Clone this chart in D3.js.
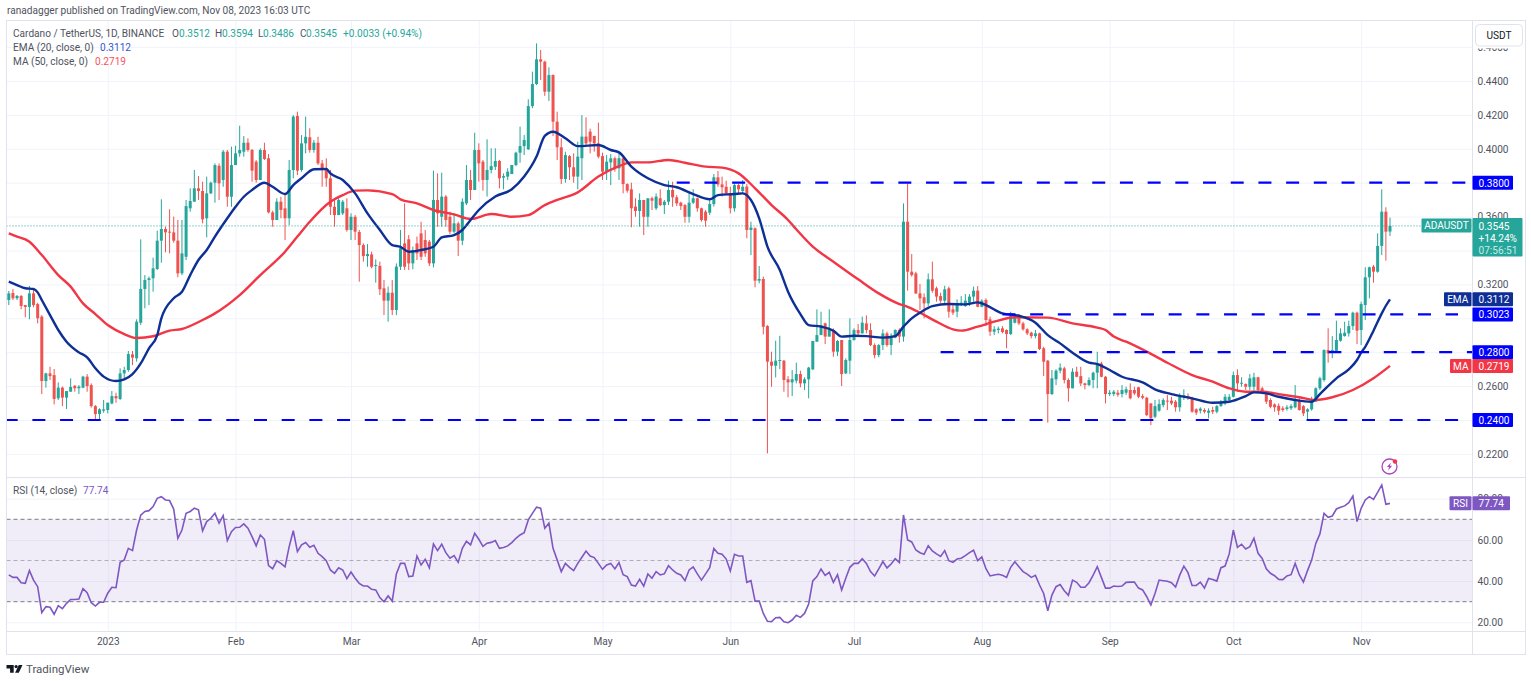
<!DOCTYPE html>
<html>
<head>
  <meta charset="utf-8">
  <script src="https://d3js.org/d3.v7.min.js"></script>
  <style>
    html, body { margin: 0; padding: 0; background: #fff; }
    svg { display: block; }
    text { font-family: Roboto, "Open Sans", sans-serif; font-size: 10.1px; fill: #50535e; }
    .grid line { stroke: #f0f3fa; stroke-width: 1; }
    .grid path, .grid text { display: none; }
    .axis path, .axis line { display: none; }
    .frame { stroke: #e0e3eb; stroke-width: 1; fill: none; }
  </style>
</head>
<body>
<script type="text/javascript">
// daily candles, 8 Dec 2022 to 8 Nov 2023
var opens = [
.3108,.3149,.3118,.3132,.3078,.3067,.3147,.3084,.3010,.2630,
.2675,.2665,.2528,.2591,.2532,.2567,.2602,.2587,.2591,.2656,
.2606,.2482,.2435,.2455,.2459,.2498,.2541,.2524,.2675,.2695,
.2787,.2764,.2974,.3173,.3226,.3236,.3291,.3458,.3527,.3511,
.3507,.3458,.3265,.3363,.3649,.3688,.3767,.3751,.3590,.3737,
.3800,.3900,.3816,.3983,.3717,.3904,.3973,.3983,.4036,.3993,
.3924,.3816,.3993,.3944,.3625,.3580,.3688,.3649,.3590,.3875,
.4194,.3875,.4032,.4068,.3993,.4036,.3914,.3885,.3826,.3658,
.3609,.3619,.3649,.3521,.3599,.3509,.3432,.3367,.3377,.3311,
.3309,.3177,.3104,.3151,.3049,.3304,.3442,.3466,.3324,.3442,
.3501,.3462,.3452,.3324,.3698,.3599,.3718,.3599,.3511,.3560,
.3458,.3678,.3816,.3757,.3993,.3924,.3816,.3875,.3894,.3928,
.3830,.3836,.3851,.3904,.3977,.4016,.3997,.4252,.4382,.4528,
.4514,.4337,.4435,.4160,.4009,.3822,.3957,.3891,.3836,.3944,
.4072,.4101,.4076,.4032,.3957,.3865,.3920,.3944,.3885,.3944,
.3792,.3761,.3659,.3633,.3698,.3599,.3708,.3649,.3708,.3668,
.3688,.3757,.3714,.3682,.3668,.3599,.3682,.3708,.3649,.3629,
.3623,.3674,.3832,.3790,.3776,.3737,.3649,.3786,.3751,.3777,
.3521,.3531,.3222,.3232,.2954,.2744,.2720,.2750,.2750,.2640,
.2622,.2632,.2671,.2616,.2640,.2699,.2862,.2901,.2970,.2892,
.2931,.2803,.2872,.2675,.2750,.2872,.2931,.2911,.2970,.2931,
.2842,.2783,.2842,.2911,.2842,.2886,.2931,.2892,.3570,.3275,
.3265,.3147,.3124,.3088,.3230,.3177,.3131,.3104,.3177,.3053,
.3039,.3084,.3072,.3092,.3128,.3163,.3068,.3108,.2994,.2921,
.2931,.2941,.2931,.2907,.2974,.3019,.2970,.2935,.2915,.2895,
.2911,.2823,.2750,.2553,.2640,.2691,.2705,.2636,.2587,.2685,
.2659,.2616,.2606,.2636,.2679,.2734,.2655,.2553,.2553,.2561,
.2553,.2561,.2577,.2577,.2593,.2541,.2531,.2498,.2419,.2455,
.2488,.2514,.2514,.2508,.2475,.2537,.2541,.2528,.2463,.2455,
.2459,.2443,.2459,.2449,.2482,.2498,.2518,.2537,.2665,.2616,
.2612,.2596,.2596,.2652,.2587,.2561,.2518,.2492,.2484,.2469,
.2465,.2469,.2475,.2518,.2482,.2449,.2463,.2508,.2587,.2636,
.2813,.2797,.2803,.2868,.2895,.2911,.2954,.3033,.2931,.3078,
.3242,.3305,.3275,.3427,.3629,.3512];
var highs = [
.3161,.3173,.3137,.3137,.3078,.3191,.3167,.3092,.3019,.2679,
.2714,.2701,.2622,.2597,.2571,.2646,.2606,.2606,.2661,.2671,
.2616,.2488,.2469,.2518,.2502,.2571,.2561,.2705,.2714,.2807,
.2807,.2994,.3466,.3255,.3246,.3358,.3517,.3702,.3541,.3643,
.3600,.3580,.3580,.3698,.3767,.3875,.3839,.3806,.3836,.3806,
.3914,.3914,.3993,.3993,.4013,.4018,.4136,.4075,.4062,.3999,
.3934,.4003,.4036,.3969,.3635,.3708,.3717,.3727,.3934,.4199,
.4219,.4081,.4190,.4121,.4052,.4071,.3934,.3944,.3875,.3698,
.3708,.3698,.3708,.3619,.3609,.3521,.3442,.3438,.3393,.3348,
.3334,.3226,.3187,.3226,.3324,.3521,.3678,.3491,.3423,.3482,
.3570,.3521,.3462,.3871,.3855,.3859,.3727,.3629,.3619,.3570,
.3708,.3904,.3875,.4095,.4032,.3934,.4056,.4003,.4003,.3934,
.3855,.3885,.3904,.3983,.4131,.4081,.4292,.4455,.4622,.4583,
.4520,.4481,.4439,.4219,.4062,.3983,.3963,.3973,.4042,.4199,
.4186,.4119,.4076,.4154,.3977,.3963,.3969,.3954,.3983,.3948,
.3796,.3800,.3708,.3737,.3698,.3708,.3718,.3737,.3761,.3698,
.3812,.3806,.3727,.3688,.3674,.3741,.3761,.3712,.3653,.3639,
.3708,.3851,.3869,.3836,.3812,.3776,.3796,.3792,.3816,.3792,
.3570,.3537,.3309,.3246,.2960,.2803,.2868,.2897,.2754,.2659,
.2695,.2738,.2691,.2652,.2714,.2866,.3053,.3039,.2974,.3053,
.2941,.2872,.2872,.2764,.3000,.2941,.2966,.3010,.3017,.2970,
.2852,.2848,.2935,.2921,.2911,.2935,.2941,.3678,.3796,.3379,
.3275,.3202,.3147,.3265,.3334,.3187,.3151,.3192,.3187,.3078,
.3112,.3131,.3143,.3143,.3187,.3190,.3112,.3118,.3010,.2954,
.2951,.2954,.2935,.3039,.3029,.3025,.2980,.2941,.2921,.2931,
.2915,.2832,.2754,.2695,.2699,.2734,.2714,.2646,.2705,.2714,
.2714,.2620,.2652,.2685,.2803,.2744,.2659,.2577,.2577,.2577,
.2606,.2596,.2616,.2596,.2596,.2553,.2537,.2498,.2518,.2522,
.2528,.2547,.2537,.2518,.2557,.2581,.2557,.2537,.2469,.2475,
.2469,.2469,.2478,.2488,.2518,.2553,.2553,.2685,.2699,.2652,
.2616,.2671,.2679,.2655,.2596,.2567,.2528,.2498,.2498,.2482,
.2488,.2494,.2606,.2528,.2488,.2469,.2537,.2593,.2655,.2817,
.2941,.2895,.2986,.2941,.2980,.2986,.3039,.3039,.3098,.3301,
.3305,.3314,.3501,.3761,.3655,.3594];
var lows = [
.3078,.3108,.3108,.3053,.3006,.2994,.3065,.2970,.2553,.2591,
.2636,.2492,.2518,.2482,.2465,.2567,.2567,.2553,.2587,.2567,
.2473,.2404,.2400,.2443,.2439,.2492,.2502,.2518,.2646,.2685,
.2724,.2744,.2960,.3059,.3078,.3157,.3285,.3328,.3389,.3383,
.3446,.3242,.3255,.3344,.3629,.3688,.3698,.3560,.3477,.3733,
.3682,.3698,.3776,.3658,.3658,.3904,.3953,.3953,.3983,.3806,
.3800,.3816,.3934,.3619,.3540,.3580,.3590,.3462,.3550,.3826,
.3845,.3865,.3973,.3977,.3977,.3904,.3776,.3776,.3609,.3540,
.3609,.3609,.3511,.3462,.3462,.3216,.3334,.3304,.3295,.3210,
.3137,.3019,.2980,.3019,.3019,.3285,.3285,.3285,.3289,.3344,
.3344,.3363,.3308,.3300,.3540,.3540,.3540,.3497,.3501,.3367,
.3432,.3668,.3698,.3757,.3806,.3753,.3718,.3855,.3875,.3767,
.3761,.3816,.3851,.3898,.3918,.3963,.3993,.4239,.4376,.4406,
.4312,.4282,.4076,.3934,.3792,.3800,.3816,.3800,.3761,.3816,
.4017,.3973,.3983,.3944,.3816,.3816,.3786,.3865,.3816,.3737,
.3741,.3537,.3599,.3540,.3491,.3540,.3639,.3639,.3662,.3615,
.3668,.3658,.3662,.3639,.3564,.3564,.3674,.3629,.3570,.3540,
.3609,.3659,.3776,.3718,.3727,.3619,.3629,.3737,.3737,.3472,
.3373,.3183,.3206,.2905,.2203,.2596,.2651,.2701,.2567,.2534,
.2541,.2616,.2593,.2577,.2528,.2695,.2862,.2901,.2848,.2892,
.2773,.2777,.2600,.2671,.2671,.2868,.2901,.2911,.2911,.2836,
.2764,.2770,.2813,.2832,.2783,.2882,.2856,.2862,.3163,.3246,
.3143,.3049,.3000,.3072,.3151,.3098,.3092,.3088,.3004,.3019,
.3006,.3072,.3068,.3072,.3098,.3065,.3065,.2954,.2897,.2901,
.2911,.2911,.2823,.2901,.2970,.2960,.2927,.2901,.2882,.2882,
.2813,.2659,.2384,.2547,.2606,.2675,.2616,.2508,.2587,.2652,
.2600,.2581,.2600,.2587,.2587,.2652,.2498,.2541,.2541,.2537,
.2533,.2547,.2522,.2547,.2528,.2522,.2423,.2370,.2410,.2449,
.2475,.2459,.2488,.2449,.2449,.2518,.2518,.2443,.2429,.2439,
.2439,.2410,.2435,.2439,.2478,.2488,.2508,.2533,.2567,.2596,
.2577,.2577,.2573,.2567,.2553,.2494,.2469,.2449,.2429,.2449,
.2455,.2459,.2469,.2455,.2423,.2396,.2455,.2508,.2577,.2626,
.2738,.2764,.2797,.2862,.2892,.2892,.2931,.2848,.2842,.2990,
.3118,.3210,.3269,.3373,.3340,.3486];
var closes = [
.3147,.3118,.3132,.3073,.3067,.3147,.3078,.3000,.2630,.2675,
.2659,.2524,.2591,.2532,.2571,.2595,.2587,.2597,.2656,.2600,
.2482,.2435,.2463,.2463,.2502,.2541,.2528,.2675,.2695,.2789,
.2768,.2980,.3173,.3226,.3236,.3295,.3458,.3527,.3507,.3507,
.3458,.3265,.3383,.3662,.3692,.3767,.3751,.3584,.3737,.3800,
.3904,.3796,.3983,.3717,.3904,.3973,.3993,.4036,.3993,.3871,
.3816,.3993,.3940,.3625,.3580,.3688,.3639,.3590,.3875,.4190,
.3871,.4032,.4071,.3993,.4036,.3914,.3885,.3826,.3658,.3609,
.3698,.3688,.3521,.3599,.3511,.3432,.3367,.3379,.3304,.3314,
.3171,.3104,.3151,.3049,.3305,.3413,.3304,.3324,.3403,.3383,
.3363,.3383,.3324,.3698,.3619,.3718,.3580,.3511,.3560,.3458,
.3688,.3816,.3757,.3993,.3914,.3816,.3875,.3898,.3928,.3826,
.3839,.3865,.3904,.3977,.4016,.4052,.4252,.4382,.4528,.4514,
.4337,.4435,.4160,.4009,.3822,.3963,.3891,.3836,.3954,.4072,
.4032,.4042,.4032,.3954,.3865,.3924,.3944,.3885,.3944,.3792,
.3753,.3649,.3633,.3698,.3599,.3708,.3694,.3718,.3668,.3688,
.3757,.3714,.3678,.3662,.3599,.3682,.3708,.3649,.3580,.3576,
.3674,.3832,.3790,.3773,.3737,.3649,.3786,.3761,.3776,.3521,
.3535,.3222,.3232,.2950,.2744,.2720,.2750,.2754,.2636,.2622,
.2640,.2671,.2616,.2640,.2709,.2866,.2901,.2960,.2892,.2931,
.2803,.2866,.2671,.2754,.2872,.2931,.2911,.2974,.2931,.2842,
.2783,.2842,.2911,.2842,.2892,.2931,.2892,.3570,.3275,.3255,
.3147,.3118,.3088,.3230,.3163,.3128,.3104,.3171,.3039,.3033,
.3084,.3092,.3104,.3128,.3163,.3068,.3104,.2990,.2921,.2935,
.2939,.2919,.2907,.3029,.3019,.2970,.2935,.2911,.2895,.2911,
.2819,.2744,.2553,.2646,.2691,.2709,.2636,.2587,.2685,.2655,
.2616,.2606,.2636,.2679,.2734,.2655,.2553,.2561,.2567,.2549,
.2577,.2581,.2528,.2557,.2537,.2531,.2429,.2410,.2482,.2494,
.2518,.2508,.2498,.2475,.2537,.2547,.2537,.2449,.2443,.2467,
.2449,.2455,.2449,.2482,.2508,.2537,.2537,.2665,.2616,.2620,
.2596,.2646,.2652,.2577,.2561,.2508,.2478,.2475,.2455,.2459,
.2475,.2482,.2522,.2459,.2439,.2463,.2508,.2587,.2646,.2813,
.2793,.2813,.2872,.2911,.2915,.2954,.3033,.2927,.3084,.3242,
.3301,.3275,.3427,.3629,.3511,.3545];

// EMA 20 and MA 50, sampled where the curves could be read
var emaDays = [0,2,4,6,7,8,10,12,14,17,19,21,23,26,28,30,32,34,36,37,40,42,44,46,48,50,53,55,57,59,62,64,67,69,71,74,77,78,81,84,87,90,93,95,97,100,103,105,108,110,112,114,118,122,125,128,130,132,135,138,143,146,148,151,155,159,162,166,170,172,176,178,180,182,184,187,189,192,194,197,200,202,205,208,212,215,217,219,221,224,228,232,235,237,241,245,249,252,255,258,262,264,267,270,275,278,282,287,292,296,300,302,305,308,312,316,318,322,325,327,328,329,331,333,334,335];
var emaValues = [.3216,.3196,.3177,.3173,.3153,.3108,.3019,.2931,.2862,.2799,.2770,.2705,.2656,.2630,.2640,.2671,.2734,.2823,.2901,.3000,.3118,.3157,.3255,.3344,.3403,.3482,.3590,.3658,.3717,.3757,.3800,.3776,.3733,.3786,.3826,.3879,.3881,.3855,.3816,.3737,.3619,.3521,.3432,.3422,.3393,.3403,.3422,.3477,.3491,.3521,.3580,.3639,.3718,.3761,.3836,.3954,.4076,.4101,.4062,.4016,.4022,.3993,.3979,.3895,.3826,.3786,.3773,.3733,.3702,.3727,.3733,.3737,.3698,.3590,.3423,.3285,.3157,.3025,.2960,.2951,.2927,.2892,.2897,.2895,.2886,.2895,.2951,.3000,.3033,.3072,.3084,.3082,.3094,.3078,.3029,.3015,.2974,.2901,.2852,.2797,.2738,.2730,.2695,.2655,.2622,.2581,.2553,.2528,.2502,.2508,.2541,.2563,.2557,.2537,.2518,.2508,.2553,.2646,.2699,.2754,.2797,.2832,.2927,.3029,.3074,.3112];
var maDays = [0,2,5,8,12,15,18,21,24,28,31,35,39,42,47,50,56,61,67,70,73,78,81,84,87,93,95,99,103,108,112,117,122,126,130,133,138,143,148,151,155,160,164,169,173,177,181,185,189,191,195,200,206,211,216,218,221,225,229,231,235,239,244,252,258,264,266,268,271,276,281,287,292,296,300,304,308,313,317,321,326,331,335];
var maValues = [.3501,.3482,.3452,.3373,.3255,.3187,.3088,.3025,.2960,.2907,.2884,.2894,.2927,.2937,.2990,.3029,.3137,.3255,.3393,.3482,.3570,.3688,.3727,.3753,.3755,.3733,.3702,.3678,.3639,.3613,.3586,.3615,.3599,.3609,.3668,.3698,.3743,.3836,.3898,.3920,.3920,.3934,.3918,.3895,.3889,.3855,.3767,.3668,.3580,.3525,.3423,.3334,.3230,.3147,.3084,.3068,.3033,.2980,.2935,.2927,.2951,.2980,.3006,.3004,.2970,.2945,.2931,.2892,.2862,.2803,.2738,.2665,.2626,.2587,.2567,.2567,.2553,.2534,.2518,.2534,.2577,.2646,.2719];

// RSI 14, one value per candle
var rsiValues = [
43.0,41.8,41.8,39.2,38.9,45.1,40.5,37.3,24.7,27.6,
27.3,23.9,28.1,26.6,29.2,31.1,31.1,31.3,36.3,34.4,
29.5,27.9,29.7,29.7,34.1,37.0,36.8,49.1,50.3,55.9,
54.8,64.8,72.0,73.8,74.2,76.2,80.2,81.0,79.4,79.1,
74.9,60.8,64.8,72.9,73.8,75.4,74.6,64.4,68.9,70.5,
72.9,68.1,71.8,59.7,64.0,66.0,66.1,67.8,65.7,61.6,
57.1,62.4,60.3,47.5,46.0,49.9,48.6,46.9,56.7,64.5,
54.3,57.6,58.7,56.4,57.4,53.5,51.9,49.9,45.4,43.8,
46.5,45.4,41.2,44.4,41.4,38.9,37.6,37.6,36.0,35.7,
32.0,30.0,32.8,30.3,43.5,48.6,48.6,42.2,42.5,52.2,
47.8,50.6,46.4,58.0,54.8,57.9,53.8,51.1,52.4,49.1,
55.9,59.3,57.6,63.2,60.3,56.9,58.4,58.8,59.7,55.9,
56.3,57.1,58.7,60.8,62.4,63.5,69.7,72.9,75.9,75.4,
65.7,68.1,55.9,50.3,44.6,48.6,46.7,45.1,48.6,51.6,
54.6,52.2,51.4,48.6,45.7,47.8,48.6,45.9,49.0,43.1,
42.2,38.1,37.6,40.9,37.6,43.5,41.4,44.6,43.0,43.5,
47.5,45.4,43.8,43.0,40.2,45.4,46.9,43.5,40.5,43.5,
46.5,55.8,53.5,53.0,50.7,44.9,53.0,52.2,52.2,39.4,
40.2,30.3,30.3,24.3,20.5,20.3,22.2,22.4,20.3,19.8,
21.1,23.4,22.4,24.3,28.9,40.1,42.2,45.9,42.8,44.3,
39.4,43.1,35.7,41.4,46.7,48.6,48.6,50.9,48.6,44.6,
42.5,45.9,49.5,46.4,48.3,50.9,49.0,72.1,60.0,59.0,
55.1,53.8,53.0,57.2,54.6,53.2,52.0,54.8,49.9,49.1,
50.7,51.1,52.4,53.8,55.0,49.9,51.7,46.0,42.5,43.0,
43.3,42.8,41.8,46.7,49.4,47.0,44.6,43.4,41.8,42.8,
38.1,34.0,25.6,33.2,37.3,38.3,35.3,33.1,40.5,39.4,
37.0,37.0,39.2,42.9,47.0,41.8,36.6,36.6,37.6,37.4,
37.6,39.4,39.5,39.5,36.6,35.7,32.4,28.4,34.0,40.5,
40.2,39.9,39.2,37.1,42.9,47.3,44.1,37.9,37.9,39.5,
36.6,41.3,40.8,40.0,46.5,47.3,53.2,64.8,56.4,57.9,
55.6,56.7,60.8,53.5,51.0,46.0,43.8,42.6,40.8,40.7,
42.5,43.1,48.6,43.1,39.5,45.1,50.2,58.3,62.9,72.9,
71.0,71.6,75.0,75.8,76.5,78.1,81.3,68.9,75.3,79.4,
81.0,79.7,83.1,86.7,77.3,77.74];

// horizontal levels drawn on the chart: price, first day, last day
var levelPrices = [0.38, 0.3023, 0.28, 0.24];
var levelFrom = [162, 241, 226, -1];
var levelTo = [353.5, 351.5, 355, 352.5];

var priceTicks = [0.22,0.24,0.26,0.28,0.30,0.32,0.34,0.36,0.38,0.40,0.42,0.44,0.46];
var priceLabels = [0.22,0.26,0.32,0.36,0.40,0.42,0.44,0.46];
var rsiTicks = [20,40,60,80];
var rsiDashes = [70,50,30];
var monthDays = [24,55,83,114,144,175,205,236,267,297,328];
var monthLabels = ["2023","Feb","Mar","Apr","May","Jun","Jul","Aug","Sep","Oct","Nov"];

var lastPrice = 0.3545, emaLast = 0.3112, maLast = 0.2719, rsiLast = 77.74;

var GREEN = "#26a69a", RED = "#ef5350", BLUE = "#0000ff", NAVY = "#0d2f96",
    MACOL = "#f23645", PURPLE = "#7e57c2";

// careful: a global called "top" is window.top and can't be assigned
var W = 1531, H = 681,
    paneLeft = 6.5, paneRight = 1472.5, outer = 1525.5,
    paneTop = 20.5, split = 477.5, rsiBottom = 631.5, bottom = 654.5;

var x = d3.scaleLinear().domain([0, 335]).range([8.8, 1390]);
var y = d3.scaleLinear().domain([0.24, 0.44]).range([420, 81]);
var yRsi = d3.scaleLinear().domain([30, 70]).range([601.7, 519.3]);

var svg = d3.select("body").append("svg").attr("width", W).attr("height", H);

// clip so nothing runs past the panes
svg.append("clipPath").attr("id", "pane").append("rect")
  .attr("x", paneLeft).attr("y", paneTop).attr("width", paneRight - paneLeft).attr("height", split - paneTop);
svg.append("clipPath").attr("id", "pane2").append("rect")
  .attr("x", paneLeft).attr("y", split).attr("width", paneRight - paneLeft).attr("height", rsiBottom - split);

// grid lines
svg.append("g").attr("class", "grid").attr("transform", "translate(0," + split + ")")
  .call(d3.axisBottom(x).tickValues(monthDays).tickSize(paneTop - split).tickFormat(""));
svg.append("g").attr("class", "grid").attr("transform", "translate(0," + rsiBottom + ")")
  .call(d3.axisBottom(x).tickValues(monthDays).tickSize(split - rsiBottom).tickFormat(""));
svg.append("g").attr("class", "grid").attr("transform", "translate(" + paneRight + ",0)")
  .call(d3.axisLeft(y).tickValues(priceTicks).tickSize(paneRight - paneLeft).tickFormat(""));
svg.append("g").attr("class", "grid").attr("transform", "translate(" + paneRight + ",0)")
  .call(d3.axisLeft(yRsi).tickValues(rsiTicks).tickSize(paneRight - paneLeft).tickFormat(""));

// candles
var plot = svg.append("g").attr("clip-path", "url(#pane)");
var days = d3.range(opens.length);
var candleColor = function(i) { return closes[i] >= opens[i] ? GREEN : RED; };

plot.selectAll("line.wick").data(days).enter().append("line")
  .attr("class", "wick")
  .attr("x1", function(i) { return x(i); })
  .attr("x2", function(i) { return x(i); })
  .attr("y1", function(i) { return y(highs[i]); })
  .attr("y2", function(i) { return y(lows[i]); })
  .attr("stroke", candleColor)
  .attr("stroke-width", 1);

plot.selectAll("rect.body").data(days).enter().append("rect")
  .attr("class", "body")
  .attr("x", function(i) { return x(i) - 1.5; })
  .attr("width", 3)
  .attr("y", function(i) { return y(Math.max(opens[i], closes[i])); })
  .attr("height", function(i) { return Math.max(1, Math.abs(y(opens[i]) - y(closes[i]))); })
  .attr("fill", candleColor);

// EMA and MA
var line = d3.line().x(function(d) { return x(d[0]); }).y(function(d) { return y(d[1]); })
  .curve(d3.curveMonotoneX);
plot.append("path").attr("d", line(d3.zip(maDays, maValues)))
  .attr("fill", "none").attr("stroke", MACOL).attr("stroke-width", 2.4);
plot.append("path").attr("d", line(d3.zip(emaDays, emaValues)))
  .attr("fill", "none").attr("stroke", NAVY).attr("stroke-width", 2.4);

// dashed levels
levelPrices.forEach(function(p, k) {
  plot.append("line")
    .attr("x1", x(levelFrom[k])).attr("x2", x(levelTo[k]))
    .attr("y1", y(p)).attr("y2", y(p))
    .attr("stroke", BLUE).attr("stroke-width", 2.2)
    .attr("stroke-dasharray", "13,14.7");
});

// last price
plot.append("line")
  .attr("x1", paneLeft).attr("x2", paneRight).attr("y1", y(lastPrice)).attr("y2", y(lastPrice))
  .attr("stroke", GREEN).attr("stroke-width", 1).attr("stroke-dasharray", "1,2");

// RSI pane
var rsiPlot = svg.append("g").attr("clip-path", "url(#pane2)");
rsiPlot.append("rect")
  .attr("x", paneLeft).attr("width", paneRight - paneLeft)
  .attr("y", yRsi(70)).attr("height", yRsi(30) - yRsi(70))
  .attr("fill", PURPLE).attr("opacity", 0.11);
rsiDashes.forEach(function(v) {
  rsiPlot.append("line")
    .attr("x1", paneLeft).attr("x2", paneRight).attr("y1", yRsi(v)).attr("y2", yRsi(v))
    .attr("stroke", "#787b86").attr("stroke-width", 1)
    .attr("stroke-dasharray", "4,3")
    .attr("opacity", v == 50 ? 0.55 : 1);
});
var rsiLine = d3.line().x(function(d, i) { return x(i); }).y(function(d) { return yRsi(d); });
rsiPlot.append("path").attr("d", rsiLine(rsiValues))
  .attr("fill", "none").attr("stroke", PURPLE).attr("stroke-width", 1.6);

// frame
svg.append("rect").attr("class", "frame").attr("x", paneLeft).attr("y", paneTop)
  .attr("width", outer - paneLeft).attr("height", bottom - paneTop);
[split, rsiBottom].forEach(function(v) {
  svg.append("line").attr("class", "frame").attr("x1", paneLeft).attr("x2", outer).attr("y1", v).attr("y2", v);
});
svg.append("line").attr("class", "frame").attr("x1", paneRight).attr("x2", paneRight).attr("y1", paneTop).attr("y2", bottom);

// axes
var priceAxis = svg.append("g").attr("class", "axis").attr("transform", "translate(" + paneRight + ",0)")
  .call(d3.axisRight(y).tickValues(priceLabels).tickSize(0).tickPadding(5).tickFormat(d3.format(".4f")));
var rsiAxis = svg.append("g").attr("class", "axis").attr("transform", "translate(" + paneRight + ",0)")
  .call(d3.axisRight(yRsi).tickValues(rsiTicks).tickSize(0).tickPadding(5).tickFormat(d3.format(".2f")));
var timeAxis = svg.append("g").attr("class", "axis").attr("transform", "translate(0," + rsiBottom + ")")
  .call(d3.axisBottom(x).tickValues(monthDays).tickSize(0).tickPadding(6)
    .tickFormat(function(d, i) { return monthLabels[i]; }));
svg.selectAll(".axis").attr("font-family", null).attr("font-size", null);

// helper for the label boxes on the axis
function tag(x0, x1, cy, h, color, label, anchor) {
  svg.append("rect").attr("x", x0).attr("y", cy - h / 2).attr("width", x1 - x0).attr("height", h)
    .attr("fill", color).attr("rx", 1);
  svg.append("text").attr("x", anchor == "middle" ? (x0 + x1) / 2 : x0 + 6).attr("y", cy + 3.8)
    .attr("text-anchor", anchor || "start").style("fill", "#fff").text(label);
}

levelPrices.forEach(function(p) {
  tag(1472.5, 1513, y(p), 14, BLUE, d3.format(".4f")(p));
});

tag(1444, 1471.5, y(emaLast), 14, NAVY, "EMA", "middle");
tag(1472.5, 1513, y(emaLast), 14, NAVY, d3.format(".4f")(emaLast));
tag(1450, 1471.5, y(maLast), 14, MACOL, "MA", "middle");
tag(1472.5, 1513, y(maLast), 14, MACOL, d3.format(".4f")(maLast));

// last price box with change and countdown
tag(1421.5, 1471.5, y(lastPrice) - 0.5, 14, GREEN, "ADAUSDT", "middle");
svg.append("rect").attr("x", 1472.5).attr("y", 218).attr("width", 50).attr("height", 38.5).attr("fill", GREEN).attr("rx", 1);
[["0.3545", 229.5, "#fff"], ["+14.24%", 242, "#fff"], ["07:56:51", 254, "#c4ece6"]].forEach(function(t) {
  svg.append("text").attr("x", 1478.5).attr("y", t[1]).style("fill", t[2]).text(t[0]);
});

tag(1449.5, 1471.5, yRsi(rsiLast), 14, PURPLE, "RSI", "middle");
tag(1472.5, 1510, yRsi(rsiLast), 14, PURPLE, d3.format(".2f")(rsiLast));

// USDT button, the white patch hides most of the 0.4600 label like the original does
svg.append("rect").attr("x", 1473).attr("y", 21).attr("width", 52).attr("height", 27.5).attr("fill", "#fff");
svg.append("rect").attr("x", 1475.5).attr("y", 24.5).attr("width", 47).attr("height", 21.5).attr("rx", 4)
  .attr("fill", "#fff").attr("stroke", "#e0e3eb");
svg.append("text").attr("x", 1499).attr("y", 39).attr("text-anchor", "middle").style("fill", "#131722").text("USDT");

// header and legend
function label(px, py, str, color) {
  svg.append("text").attr("x", px).attr("y", py).style("fill", color || "#50535e").text(str);
}
label(7, 14, "ranadagger published on TradingView.com, Nov 08, 2023 16:03 UTC", "#50535e");
label(13, 37, "Cardano / TetherUS, 1D, BINANCE");
[["O", 172, "0.3512", 179], ["H", 215, "0.3594", 222], ["L", 258, "0.3486", 263], ["C", 300, "0.3545", 306]].forEach(function(o) {
  label(o[1], 37, o[0]);
  label(o[3], 37, o[2], GREEN);
});
label(343, 37, "+0.0033 (+0.94%)", GREEN);
label(13, 51, "EMA (20, close, 0)");
label(100, 51, "0.3112", "#3157c9");
label(13, 65, "MA (50, close, 0)");
label(95, 65, "0.2719", "#f7525f");
label(13, 494, "RSI (14, close)");
label(83, 494, "77.74", PURPLE);

// TradingView mark
var logo = svg.append("g").attr("fill", "#131722").attr("transform", "translate(6.5,665)");
logo.append("path").attr("d", "M0 0H7.2V7.8H3.6V3.4H0Z");
logo.append("circle").attr("cx", 9.6).attr("cy", 1.6).attr("r", 1.6);
logo.append("path").attr("d", "M12.3 0H16L12.3 7.8H8.6Z");
svg.append("text").attr("x", 26).attr("y", 673).style("font-size", "11.5px").text("TradingView");

// lightning icon above the RSI pane
var icon = svg.append("g").attr("transform", "translate(1389.5,466.5)");
icon.append("circle").attr("r", 7.5).attr("fill", "#fff").attr("stroke", "#ab47bc").attr("stroke-width", 1.3);
icon.append("path").attr("d", "M1.4 -4L-2.6 0.6H-0.4L-1.4 4L2.6 -0.8H0.4Z").attr("fill", "#ab47bc");
icon.append("circle").attr("cx", 5.5).attr("cy", -5).attr("r", 2.2).attr("fill", "#f23645");
</script>
</body>
</html>
